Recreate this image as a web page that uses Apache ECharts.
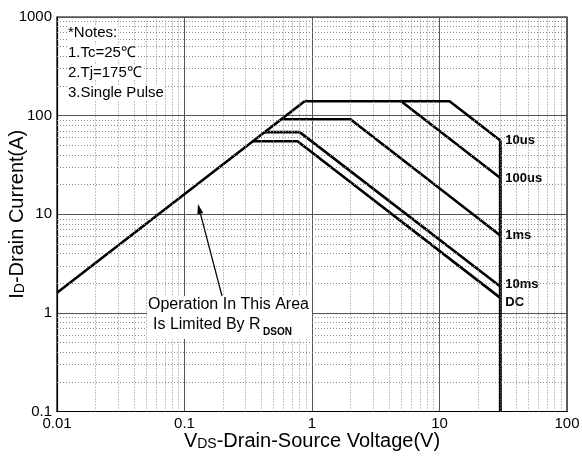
<!DOCTYPE html>
<html>
<head>
<meta charset="utf-8">
<script src="https://cdn.jsdelivr.net/npm/echarts@6/dist/echarts.min.js"></script>
<style>
  html, body { margin: 0; padding: 0; background: #fff; }
  #chart { width: 582px; height: 457px; }
</style>
</head>
<body>
<div id="chart"></div>
<script>
// SOA curves: [Vds (V), Id (A)]
const rdsonLimit = [[0.01, 1.6], [0.875, 140]];
const pulse10us = [[0.875, 140], [12, 140], [30, 56]];
const pulse100us = [[5, 140], [30, 23.3]];
const pulse1ms = [[0.575, 92], [2, 92], [30, 6.1]];
const pulse10ms = [[0.42, 68], [0.8, 68], [30, 1.85]];
const pulseDC = [[0.345, 55], [0.77, 55], [30, 1.42]];
const bvdssLimit = [[30, 56], [30, 0.1]];

const curveNames = ["10us", "100us", "1ms", "10ms", "DC"];
const labelOffsets = [[0, 0], [0, 0], [0, 0], [0, -2], [0, 5]];

const xTicks = [0.01, 0.1, 1, 10, 100];
const yTicks = [0.1, 1, 10, 100, 1000];
const notes = ["*Notes:", "1.Tc=25℃", "2.Tj=175℃", "3.Single Pulse"];

// minor grid lines 2..9 of every decade
const minorSteps = [2, 3, 4, 5, 6, 7, 8, 9];
const xMinor = [];
xTicks.slice(0, -1).forEach((d) => minorSteps.forEach((m) => xMinor.push(+(d * m).toPrecision(3))));
const yMinor = [];
yTicks.slice(0, -1).forEach((d) => minorSteps.forEach((m) => yMinor.push(+(d * m).toPrecision(3))));

const font = "Liberation Sans, Arial, sans-serif";
const chart = echarts.init(document.getElementById("chart"));

const curveStyle = { color: "#000", width: 2.6 };

const pulseSeries = [pulse10us, pulse100us, pulse1ms, pulse10ms, pulseDC].map((d, i) => ({
  name: curveNames[i],
  type: "line",
  data: d,
  symbol: "none",
  z: 4,
  lineStyle: curveStyle,
  endLabel: {
    show: true,
    formatter: curveNames[i],
    fontFamily: font,
    fontSize: 13,
    fontWeight: "bold",
    color: "#000",
    distance: 4,
    offset: labelOffsets[i],
    backgroundColor: "#fff",
    padding: [0, 1],
  },
}));

const nameRich = {
  n: { fontSize: 20, fontFamily: font, color: "#000", lineHeight: 20, verticalAlign: "bottom" },
  s: { fontSize: 14, fontFamily: font, color: "#000", lineHeight: 16, verticalAlign: "bottom" },
};

const option = {
  animation: false,
  textStyle: { fontFamily: font },
  grid: {
    left: 57, right: 15, top: 17, bottom: 45.5,
    containLabel: false,
    outerBoundsMode: "none",
    show: true, borderColor: "#000", borderWidth: 1.2,
  },
  xAxis: {
    type: "log",
    logBase: 10,
    min: 0.01,
    max: 100,
    name: "{n|V}{s|DS}{n|-Drain-Source Voltage(V)}",
    nameLocation: "middle",
    nameGap: 20,
    nameMoveOverlap: false,
    nameTextStyle: { rich: nameRich },
    axisLine: { lineStyle: { color: "#000", width: 1.2 } },
    axisTick: { show: false },
    axisLabel: {
      fontSize: 15, color: "#000", margin: 5,
      formatter: (v) => String(+v.toPrecision(3)),
    },
    splitLine: { show: true, lineStyle: { color: "#555", width: 1 } },
  },
  yAxis: {
    type: "log",
    logBase: 10,
    min: 0.1,
    max: 1000,
    name: "{n|I}{s|D}{n|-Drain Current(A)}",
    nameLocation: "middle",
    nameGap: 30,
    nameMoveOverlap: false,
    nameTextStyle: { rich: nameRich },
    axisLine: { lineStyle: { color: "#000", width: 1.2 } },
    axisTick: { show: false },
    axisLabel: {
      fontSize: 15, color: "#000", margin: 5,
      formatter: (v) => String(+v.toPrecision(3)),
    },
    splitLine: { show: true, lineStyle: { color: "#555", width: 1 } },
  },
  series: [
    {
      name: "minor grid",
      type: "line",
      data: [[1, 1]],
      symbol: "none",
      silent: true,
      z: 1,
      lineStyle: { opacity: 0 },
      markLine: {
        silent: true,
        symbol: "none",
        label: { show: false },
        lineStyle: { type: [1, 2], color: "#888", width: 1 },
        data: xMinor.map((v) => ({ xAxis: v })).concat(yMinor.map((v) => ({ yAxis: v }))),
      },
    },
    {
      name: "Rdson",
      type: "line",
      data: rdsonLimit,
      symbol: "none",
      z: 4,
      lineStyle: curveStyle,
    },
    ...pulseSeries,
    {
      name: "BVdss",
      type: "line",
      data: bvdssLimit,
      symbol: "none",
      z: 4,
      lineStyle: { color: "#000", width: 3 },
    },
  ],
  graphic: [
    ...notes.map((t, i) => ({
      type: "text",
      left: 67,
      top: 25 + i * 20,
      z: 10,
      style: { text: t, fontSize: 15, fontFamily: font, fill: "#000", backgroundColor: "#fff", padding: [0, 1] },
    })),
    {
      type: "rect",
      z: 10,
      shape: { x: 147, y: 296, width: 165, height: 43 },
      style: { fill: "#fff" },
    },
    {
      type: "text",
      left: 148,
      top: 297,
      z: 11,
      style: { text: "Operation In This Area", fontSize: 16, fontFamily: font, fill: "#000" },
    },
    {
      type: "text",
      left: 153,
      top: 317,
      z: 11,
      style: { text: "Is Limited By R", fontSize: 16, fontFamily: font, fill: "#000" },
    },
    {
      type: "text",
      left: 263,
      top: 327,
      z: 11,
      style: { text: "DSON", fontSize: 10, fontWeight: "bold", fontFamily: font, fill: "#000" },
    },
    {
      type: "line",
      z: 11,
      shape: { x1: 222, y1: 296, x2: 200, y2: 212 },
      style: { stroke: "#000", lineWidth: 1.2 },
    },
    {
      type: "polygon",
      z: 11,
      shape: { points: [[198, 204], [203.2, 213], [197.4, 214.5]] },
      style: { fill: "#000" },
    },
  ],
};

chart.setOption(option);
</script>
</body>
</html>
